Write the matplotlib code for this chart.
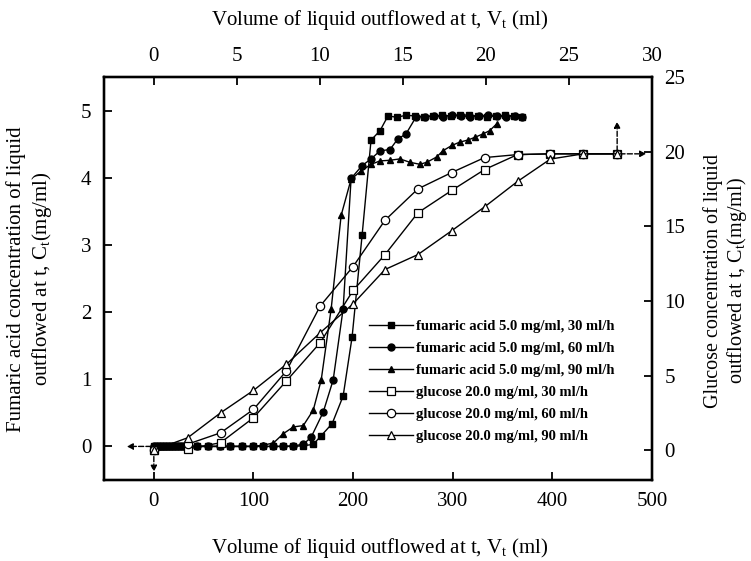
import matplotlib
matplotlib.use("Agg")
import matplotlib.pyplot as plt

# fumaric acid 5.0 mg/ml (left axis, mg/ml) vs outflow volume V_t (ml)
fa30_x = [0, 3, 6, 9, 12, 15, 18, 21, 24, 27, 30, 43, 54, 66, 76, 88, 100, 110, 120, 130, 140, 150, 160,
          168, 179, 190, 199, 209, 218, 227,
          235, 244, 253, 262, 271, 280, 289, 298, 307, 316, 325, 334, 343, 352, 361, 370]
fa30_y = [0, 0, 0, 0, 0, 0, 0, 0, 0, 0, 0, 0, 0, 0, 0, 0, 0, 0, 0, 0, 0, 0.01, 0.03,
          0.16, 0.34, 0.75, 1.63, 3.14, 4.56, 4.70,
          4.92, 4.90, 4.93, 4.92, 4.91, 4.92, 4.93, 4.92, 4.94, 4.93, 4.92, 4.91, 4.92, 4.93, 4.92, 4.91]

fa60_x = [0, 3, 6, 9, 12, 15, 18, 21, 24, 27, 30, 43, 54, 66, 76, 88, 100, 110, 120, 130, 140, 150,
          158, 170, 180, 190, 198, 209, 218, 227, 237, 245, 253, 263,
          272, 281, 290, 299, 308, 317, 326, 335, 344, 353, 362, 370]
fa60_y = [0, 0, 0, 0, 0, 0, 0, 0, 0, 0, 0, 0, 0, 0, 0, 0, 0, 0, 0, 0, 0.01, 0.03,
          0.14, 0.51, 0.99, 2.05, 3.99, 4.18, 4.28, 4.40, 4.42, 4.58, 4.65, 4.90,
          4.91, 4.92, 4.91, 4.93, 4.92, 4.91, 4.92, 4.93, 4.92, 4.91, 4.92, 4.91]

fa90_x = [0, 3, 6, 9, 12, 15, 18, 21, 24, 27, 30, 43, 54, 66, 76, 88, 100, 110, 120,
          130, 140, 150, 160, 168, 178, 188, 198, 208, 218, 227, 237, 247, 257, 267,
          274, 284, 290, 299, 307, 315, 322, 330, 337, 344]
fa90_y = [0, 0, 0, 0, 0, 0, 0, 0, 0, 0, 0, 0, 0, 0, 0, 0, 0, 0.02, 0.05,
          0.19, 0.29, 0.31, 0.54, 0.99, 2.05, 3.44, 3.98, 4.10, 4.20, 4.25, 4.26, 4.28, 4.23, 4.20,
          4.23, 4.31, 4.40, 4.48, 4.53, 4.56, 4.60, 4.65, 4.70, 4.80]

# glucose 20.0 mg/ml (right axis, mg/ml)
glu_x = [0, 34, 67, 100, 133, 167, 200, 232, 265, 299, 332, 365, 398, 431, 465]
glu30_y = [0, 0.07, 0.5, 2.17, 4.63, 7.2, 10.7, 13.1, 15.9, 17.4, 18.8, 19.8, 19.85, 19.85, 19.85]
glu60_y = [0, 0.4, 1.16, 2.73, 5.3, 9.66, 12.3, 15.4, 17.5, 18.6, 19.6, 19.8, 19.85, 19.85, 19.85]
glu90_y = [0, 0.83, 2.5, 4.0, 5.75, 7.87, 9.8, 12.1, 13.1, 14.7, 16.3, 18.0, 19.5, 19.85, 19.85]

fa_labels = ["fumaric acid 5.0 mg/ml, 30 ml/h", "fumaric acid 5.0 mg/ml, 60 ml/h",
             "fumaric acid 5.0 mg/ml, 90 ml/h"]
glu_labels = ["glucose 20.0 mg/ml, 30 ml/h", "glucose 20.0 mg/ml, 60 ml/h",
              "glucose 20.0 mg/ml, 90 ml/h"]

plt.rcParams["font.family"] = ["Liberation Serif", "DejaVu Serif"]
plt.rcParams["mathtext.fontset"] = "custom"
plt.rcParams["mathtext.rm"] = "Liberation Serif"
plt.rcParams["mathtext.it"] = "Liberation Serif:italic"

FS = 15
fig = plt.figure(figsize=(7.51, 5.61), dpi=100)
ax = fig.add_axes([0.1385, 0.1444, 0.7297, 0.7184])
axr = ax.twinx()
axt = ax.twiny()

handles = []
for xs, ys, m, lab in zip([fa30_x, fa60_x, fa90_x], [fa30_y, fa60_y, fa90_y], ["s", "o", "^"], fa_labels):
    h, = ax.plot(xs, ys, "-", color="k", lw=1, marker=m, ms=5, mfc="k", mec="k", label=lab)
    handles.append(h)
for ys, m, lab in zip([glu30_y, glu60_y, glu90_y], ["s", "o", "^"], glu_labels):
    h, = axr.plot(glu_x, ys, "-", color="k", lw=1, marker=m, ms=6, mfc="white", mec="k", mew=0.9, label=lab)
    handles.append(h)

ax.set_xlim(-50, 500)
ax.set_ylim(-0.5, 5.5)
axr.set_ylim(-2, 25)
axt.set_xlim(-3, 30)
ax.set_xticks(range(0, 501, 100))
ax.set_yticks(range(0, 6))
axr.set_yticks(range(0, 26, 5))
axt.set_xticks(range(0, 31, 5))

for a in (ax, axr, axt):
    for s in a.spines.values():
        s.set_linewidth(1.6)
ax.tick_params(axis="both", direction="in", length=6, width=1.3, labelsize=FS, pad=9)
axr.tick_params(axis="y", direction="in", length=6, width=1.3, labelsize=FS, pad=9)
axt.tick_params(axis="x", direction="in", length=6, width=1.3, labelsize=FS, pad=8)

# arrows pointing each series family to its axes
arr = dict(arrowstyle="-|>", color="k", lw=1, linestyle="--", mutation_scale=9)
ax.annotate("", xy=(-30, 0), xytext=(0, 0), arrowprops=arr)
ax.annotate("", xy=(0, -0.42), xytext=(0, 0), arrowprops=arr)
axr.annotate("", xy=(465, 22.2), xytext=(465, 19.85), arrowprops=arr)
axr.annotate("", xy=(497, 19.85), xytext=(465, 19.85), arrowprops=arr)

axr.legend(handles=handles, loc="upper left", bbox_to_anchor=(0.47, 0.415), frameon=False,
           prop={"family": "Liberation Serif", "weight": "bold", "size": 10.5},
           handlelength=3, handletextpad=0.2, labelspacing=0.6, borderpad=0)

fig.text(0.505, 1 - 548 / 561, "Volume of liquid outflowed at t, V$_\\mathrm{t}$ (ml)",
         ha="center", va="center", fontsize=FS)
fig.text(0.505, 1 - 20 / 561, "Volume of liquid outflowed at t, V$_\\mathrm{t}$ (ml)",
         ha="center", va="center", fontsize=FS)
fig.text(30 / 751, 1 - 279 / 561,
         "Fumaric acid concentration of liquid\noutflowed at t, C$_\\mathrm{t}$(mg/ml)",
         ha="center", va="center", rotation=90, fontsize=FS, linespacing=1.2)
fig.text(726 / 751, 1 - 281 / 561,
         "Glucose concentration of liquid\noutflowed at t, C$_\\mathrm{t}$(mg/ml)",
         ha="center", va="center", rotation=90, fontsize=14.5, linespacing=1.15)

fig.savefig("out.png", dpi=100)
